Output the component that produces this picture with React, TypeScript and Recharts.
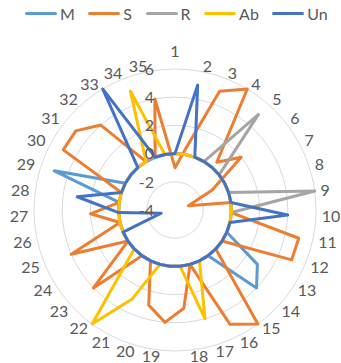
import React from 'react';
import { RadarChart, Radar, PolarGrid, PolarAngleAxis, PolarRadiusAxis } from 'recharts';

// Category spokes, clockwise from the top
const categories = [
  '1', '2', '3', '4', '5', '6', '7', '8', '9', '10',
  '11', '12', '13', '14', '15', '16', '17', '18', '19', '20',
  '21', '22', '23', '24', '25', '26', '27', '28', '29', '30',
  '31', '32', '33', '34', '35',
];

// Series values, one per category
const valuesM = [0, 0, 0, 0, 0, 0, 0, 0, 0, 0, 0, 0, 3, 4, 0, 0, 0, 0, 0, 0, 0, 0, 0, 0, 0, 0, 0, 0, 5, 0, 0, 0, 0, 0, 0];
const valuesS = [-1, 0.5, 5, 6, 0.5, 2, -1, -3, 0, 0, 5, 5, 0, 0, 6, 5, 0, 3, 4, 3, 0, 0, 4, 0, 4, 0, 2, 0, 0, 5, 5, 4, 0, 0, 4];
const valuesR = [0, 0, 0, 0, 5, 0, 0, 0, 6, 0, 0, 0, 0, 0, 0, 0, 0, 0, 0, 0, 0, 0, 0, 0, 0, 0, 0, 0, 0, 0, 0, 0, 0, 0, 0];
const valuesAb = [0, 0, 0, 0, 0, 0, 0, 0, 0, 0, 0, 0, 0, 0, 0, 0, 4, 0, 0, 0, 3, 6, 0, 0, 0, 0, 0, 0, 0, 0, 0, 0, 0, 5, 0];
const valuesUn = [0, 5, 0, 0, 0, 0, 0, 0, 0, 4, 0, 0, 0, 0, 0, 0, 0, 0, 0, 0, 0, 0, 0, 0, 0, -3, 0, 3, 0, 0, 0, 0, 6, 0, 0];

const seriesNames = ['M', 'S', 'R', 'Ab', 'Un'];
const seriesColors = ['#5B9BD5', '#ED7D31', '#A5A5A5', '#FFC000', '#4472C4'];
const seriesValues = [valuesM, valuesS, valuesR, valuesAb, valuesUn];

// Radial value axis
const radiusDomain: [number, number] = [-4, 6];
const radiusTicks = [-4, -2, 0, 2, 4, 6];

const rows = categories.map((cat, i) => {
  const row: Record<string, string | number> = { cat };
  seriesNames.forEach((name, s) => {
    row[name] = seriesValues[s][i];
  });
  return row;
});

const WIDTH = 341;
const HEIGHT = 363;
const CX = 175;
const CY = 210;
const OUTER = 141;
const LABEL_RADIUS = 145;
const FONT = 'Lato, "Open Sans", sans-serif';
const TEXT_COLOR = '#595959';

// Category labels hang off a ring just outside the grid: right-hand labels
// start at the ring, left-hand labels end at it, and a label on the vertical
// spoke is centred above (or below) it.
function AngleTick(props: any) {
  const { payload } = props;
  const label = String(payload.value);
  const rad = (payload.coordinate * Math.PI) / 180;
  const ux = Math.cos(rad);
  const uy = -Math.sin(rad);
  const px = CX + LABEL_RADIUS * ux;
  const py = CY + LABEL_RADIUS * uy;
  let x = px;
  let y = py + 1.5 * uy;
  let anchor: 'start' | 'middle' | 'end' = 'middle';
  if (Math.abs(ux) < 0.01) {
    y = py + 14 * Math.sign(uy);
  } else if (ux > 0) {
    anchor = 'start';
    x = px + 1.8;
  } else {
    anchor = 'end';
    x = px - 1.8;
  }
  return (
    <text
      x={x}
      y={y}
      dy="0.36em"
      textAnchor={anchor}
      fill={TEXT_COLOR}
      fontSize={16}
      fontFamily={FONT}
    >
      {label}
    </text>
  );
}

function RadiusTick(props: any) {
  const { x, y, payload } = props;
  return (
    <text
      x={x - 21}
      y={y}
      dy="0.36em"
      textAnchor="end"
      fill={TEXT_COLOR}
      fontSize={16}
      fontFamily={FONT}
    >
      {payload.value}
    </text>
  );
}

function LegendRow() {
  return (
    <div
      style={{
        position: 'absolute',
        left: 25,
        top: 0,
        height: 27,
        display: 'flex',
        alignItems: 'center',
        fontFamily: FONT,
        fontSize: 16,
        color: TEXT_COLOR,
        whiteSpace: 'nowrap',
      }}
    >
      {seriesNames.map((name, i) => (
        <div key={name} style={{ display: 'flex', alignItems: 'center', marginRight: 13.5 }}>
          <span
            style={{
              display: 'inline-block',
              width: 32,
              height: 3,
              borderRadius: 1.5,
              background: seriesColors[i],
              marginRight: 3,
            }}
          />
          <span>{name}</span>
        </div>
      ))}
    </div>
  );
}

export default function App() {
  return (
    <div style={{ position: 'absolute', left: 0, top: 0, width: WIDTH, height: HEIGHT, background: '#fff' }}>
      <RadarChart
        width={WIDTH}
        height={HEIGHT}
        data={rows}
        cx={CX}
        cy={CY}
        outerRadius={OUTER}
        margin={{ top: 0, right: 0, bottom: 0, left: 0 }}
      >
        <PolarGrid gridType="circle" radialLines={false} stroke="#D9D9D9" strokeWidth={1} />
        <PolarAngleAxis dataKey="cat" tick={<AngleTick />} tickLine={false} axisLine={false} />
        <PolarRadiusAxis
          type="number"
          angle={90}
          domain={radiusDomain}
          ticks={radiusTicks}
          tickCount={6}
          axisLine={false}
          tickLine={false}
          tick={<RadiusTick />}
        />
        {seriesNames.map((name, i) => (
          <Radar
            key={name}
            name={name}
            dataKey={name}
            stroke={seriesColors[i]}
            strokeWidth={3}
            strokeLinejoin="round"
            fill="none"
            fillOpacity={0}
            dot={false}
            isAnimationActive={false}
          />
        ))}
      </RadarChart>
      <LegendRow />
    </div>
  );
}
